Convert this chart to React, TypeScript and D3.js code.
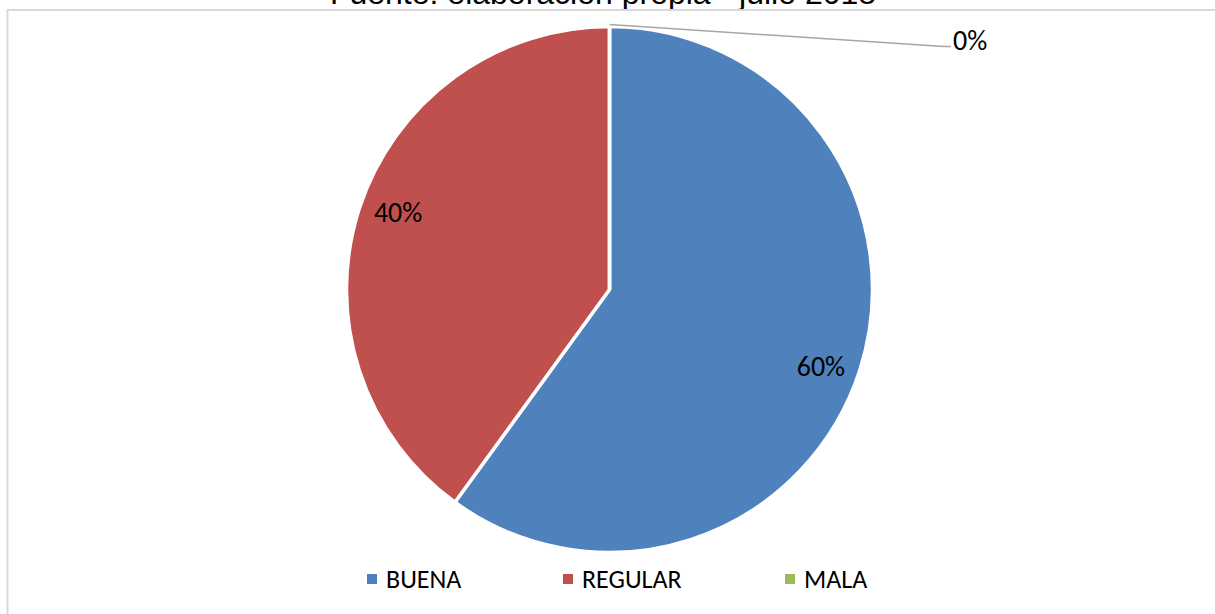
import React from "react";
import { pie, arc, PieArcDatum } from "d3";

const categories = ["BUENA", "REGULAR", "MALA"];
const values = [60, 40, 0];
const colors = ["#4F81BD", "#C0504D", "#9BBB59"];
const title = "Fuente: elaboración propia - julio 2018";

const W = 1215;
const H = 614;
const cx = 609.5;
const cy = 289.5;
const r = 263;
const font = "Calibri, Carlito, 'Open Sans', 'Liberation Sans', sans-serif";

interface Slice {
  name: string;
  value: number;
  color: string;
}

const data: Slice[] = categories.map((name, i) => ({ name, value: values[i], color: colors[i] }));

export default function App() {
  const arcs = pie<Slice>()
    .sort(null)
    .value((d) => d.value)(data);
  const arcGen = arc<PieArcDatum<Slice>>().innerRadius(0).outerRadius(r);

  // Excel puts the labels a bit off the mid angle, so nudge them
  const labelPos = (a: PieArcDatum<Slice>) => {
    const ang = (a.startAngle + a.endAngle) / 2 + 0.035;
    const k = 225;
    return [Math.sin(ang) * k, -Math.cos(ang) * k];
  };

  const legendX = [367, 563, 785];

  return (
    <div style={{ position: "fixed", left: 0, top: 0 }}>
      <svg width={W} height={H} style={{ display: "block", background: "#fff" }}>
        <text
          x={603}
          y={4}
          textAnchor="middle"
          fontFamily="'Liberation Sans', Arial, sans-serif"
          fontSize={32}
          fill="#000"
        >
          {title}
        </text>
        <path d={`M7.5,${H} V10 H${W}`} fill="none" stroke="#d9d9d9" strokeWidth={2} />
        <g transform={`translate(${cx},${cy})`}>
          {arcs.map((a) => (
            <path key={a.data.name} d={arcGen(a) ?? ""} fill={a.data.color} stroke="#fff" strokeWidth={3.5} strokeLinejoin="round" />
          ))}
          {arcs.map((a) => {
            if (a.data.value === 0) return null;
            const [lx, ly] = labelPos(a);
            return (
              <text
                key={`l-${a.data.name}`}
                x={lx}
                y={ly}
                textAnchor="middle"
                dominantBaseline="central"
                fontFamily={font}
                fontSize={28}
                fill="#000"
              >
                {a.data.value}%
              </text>
            );
          })}
        </g>
        {/* leader for zero slice */}
        <polyline points={`${cx},24.5 944,46.5 951,46.5`} fill="none" stroke="#a6a6a6" strokeWidth={1.5} />
        <text x={953} y={40} dominantBaseline="central" fontFamily={font} fontSize={28} fill="#000">
          {values[2]}%
        </text>
        {data.map((d, i) => (
          <g key={`leg-${d.name}`}>
            <rect x={legendX[i]} y={574} width={10} height={10} fill={d.color} />
            <text x={legendX[i] + 19} y={579} dominantBaseline="central" fontFamily={font} fontSize={26} fill="#000">
              {d.name}
            </text>
          </g>
        ))}
      </svg>
    </div>
  );
}
